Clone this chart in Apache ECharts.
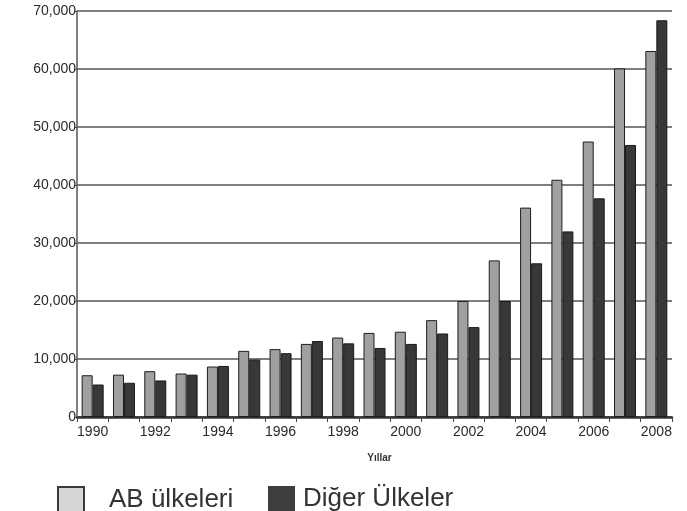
<!DOCTYPE html>
<html>
<head>
<meta charset="utf-8">
<script src="https://cdn.jsdelivr.net/npm/echarts@6/dist/echarts.min.js"></script>
<style>
html,body{margin:0;padding:0;background:#fff;}
#main{width:687px;height:511px;}
</style>
</head>
<body>
<div id="main"></div>
<script>
const years = ['1990','1991','1992','1993','1994','1995','1996','1997','1998','1999','2000','2001','2002','2003','2004','2005','2006','2007','2008'];
const abUlkeleri = [7200, 7300, 7900, 7500, 8700, 11400, 11700, 12600, 13700, 14500, 14700, 16700, 20000, 27000, 36100, 40900, 47500, 60100, 63100];
const digerUlkeler = [5600, 5900, 6300, 7300, 8800, 9900, 11000, 13100, 12700, 11900, 12600, 14400, 15500, 20000, 26500, 32000, 37700, 46900, 68400];
const yTicks = [0, 10000, 20000, 30000, 40000, 50000, 60000, 70000];

const chart = echarts.init(document.getElementById('main'));
chart.setOption({
  animation: false,
  backgroundColor: '#fff',
  grid: {left: 77, right: 15, top: 11, bottom: 94},
  legend: [
    {
      left: 52, top: 481,
      itemWidth: 26, itemHeight: 26,
      icon: 'rect',
      data: [{name: 'AB ülkeleri', itemStyle: {color: '#d6d6d6', borderColor: '#3a3a3a', borderWidth: 2}}],
      textStyle: {fontFamily: 'Liberation Sans', fontSize: 26, color: '#333', padding: [0, 0, 0, 20]}
    },
    {
      left: 263, top: 481,
      itemWidth: 27, itemHeight: 26,
      icon: 'rect',
      data: [{name: 'Diğer Ülkeler', itemStyle: {color: '#3e3e3e', borderWidth: 0}}],
      textStyle: {fontFamily: 'Liberation Sans', fontSize: 26, color: '#333', padding: [0, 0, 0, 3]}
    }
  ],
  xAxis: {
    type: 'category',
    data: years,
    name: 'Yıllar',
    nameLocation: 'middle',
    nameGap: 36,
    nameTextStyle: {fontFamily: 'Liberation Sans', fontSize: 10, fontWeight: 'bold', color: '#333', padding: [0, 0, 0, 10]},
    axisLine: {lineStyle: {color: '#333', width: 2.5}},
    axisTick: {show: true, interval: 0, length: 5, lineStyle: {color: '#444'}},
    axisLabel: {interval: 1, fontFamily: 'Liberation Sans', fontSize: 14, color: '#2a2a2a', margin: 8}
  },
  yAxis: {
    type: 'value',
    min: yTicks[0],
    max: yTicks[yTicks.length - 1],
    interval: 10000,
    axisLine: {show: true, lineStyle: {color: '#555', width: 1.5}},
    axisTick: {show: true, length: 3, lineStyle: {color: '#555'}},
    axisLabel: {
      fontFamily: 'Liberation Sans', fontSize: 14, color: '#2a2a2a', margin: 1,
      formatter: function (v) { return v.toLocaleString('en-US'); }
    },
    splitLine: {show: true, lineStyle: {color: '#555', width: 1.5}}
  },
  series: [
    {
      name: 'AB ülkeleri',
      type: 'bar',
      data: abUlkeleri,
      barWidth: 11,
      barGap: '0%',
      itemStyle: {color: '#a0a0a0', borderColor: '#1e1e1e', borderWidth: 1}
    },
    {
      name: 'Diğer Ülkeler',
      type: 'bar',
      data: digerUlkeler,
      barWidth: 11,
      itemStyle: {color: '#383838', borderColor: '#1a1a1a', borderWidth: 1}
    }
  ]
});
</script>
</body>
</html>
